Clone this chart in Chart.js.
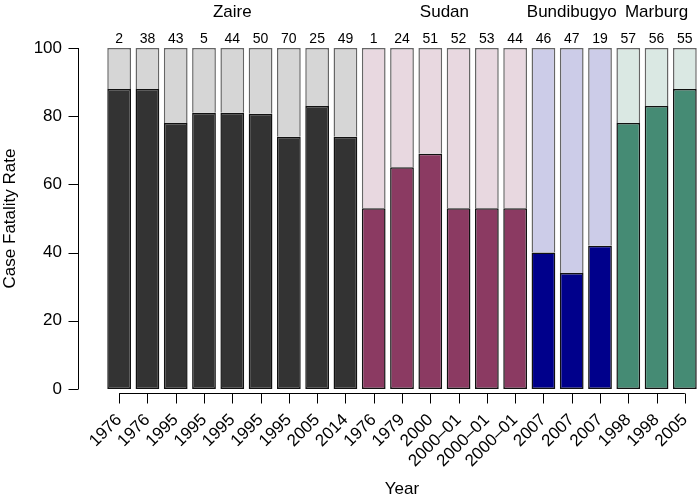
<!DOCTYPE html>
<html>
<head>
<meta charset="utf-8">
<script src="https://cdn.jsdelivr.net/npm/chart.js@4.4.1/dist/chart.umd.min.js"></script>
<style>
  html, body { margin: 0; padding: 0; background: #fff; overflow: hidden; }
  #wrap { width: 699px; height: 500px; }
</style>
</head>
<body>
<div id="wrap"><canvas id="cfr"></canvas></div>
<script>
// outbreak data
const years = ["1976", "1976", "1995", "1995", "1995", "1995", "1995", "2005", "2014",
  "1976", "1979", "2000", "2000\u201301", "2000\u201301", "2000\u201301",
  "2007", "2007", "2007", "1998", "1998", "2005"];
const species = ["Zaire", "Zaire", "Zaire", "Zaire", "Zaire", "Zaire", "Zaire", "Zaire", "Zaire",
  "Sudan", "Sudan", "Sudan", "Sudan", "Sudan", "Sudan",
  "Bundibugyo", "Bundibugyo", "Bundibugyo", "Marburg", "Marburg", "Marburg"];
const fatality = [88, 88, 78, 81, 81, 80.7, 74, 83, 74,
  53, 65, 69, 53, 53, 53,
  40, 34, 42, 78, 83, 88];
const outbreakNo = [2, 38, 43, 5, 44, 50, 70, 25, 49, 1, 24, 51, 52, 53, 44, 46, 47, 19, 57, 56, 55];
const groups = ["Zaire", "Sudan", "Bundibugyo", "Marburg"];
const yTicks = [0, 20, 40, 60, 80, 100];

const darkCol = { Zaire: "#333333", Sudan: "#8B3A62", Bundibugyo: "#00008B", Marburg: "#458B74" };
const lightCol = { Zaire: "#d6d6d6", Sudan: "#e8d8e0", Bundibugyo: "#ccccE8", Marburg: "#dae8e3" };

const FONT = "'Liberation Sans', Arial, Helvetica, sans-serif";

// R-style axes, bar labels and group titles
const decorations = {
  id: "decorations",
  afterDraw(chart) {
    const ctx = chart.ctx;
    const xs = chart.scales.x, ys = chart.scales.y;
    ctx.save();
    ctx.strokeStyle = "#000";
    ctx.lineWidth = 1;
    // y axis
    const ax = 78.5;
    ctx.beginPath();
    ctx.moveTo(ax, ys.getPixelForValue(0));
    ctx.lineTo(ax, ys.getPixelForValue(100));
    yTicks.forEach(v => {
      const py = Math.round(ys.getPixelForValue(v)) + 0.5;
      ctx.moveTo(ax, py);
      ctx.lineTo(ax - 10, py);
    });
    ctx.stroke();
    // x axis
    const ay = chart.chartArea.bottom + 4.5;
    ctx.beginPath();
    ctx.moveTo(xs.getPixelForValue(0), ay);
    ctx.lineTo(xs.getPixelForValue(years.length - 1), ay);
    years.forEach((y, i) => {
      const px = Math.round(xs.getPixelForValue(i)) + 0.5;
      ctx.moveTo(px, ay);
      ctx.lineTo(px, ay + 10);
    });
    ctx.stroke();
    // outbreak numbers
    ctx.fillStyle = "#000";
    ctx.textAlign = "center";
    ctx.textBaseline = "alphabetic";
    ctx.font = "14px " + FONT;
    outbreakNo.forEach((n, i) => {
      ctx.fillText(String(n), xs.getPixelForValue(i), 43);
    });
    // group titles
    ctx.font = "17px " + FONT;
    groups.forEach(g => {
      const idx = species.map((s, i) => s === g ? i : -1).filter(i => i >= 0);
      const mid = (xs.getPixelForValue(idx[0]) + xs.getPixelForValue(idx[idx.length - 1])) / 2;
      ctx.fillText(g, mid, 17);
    });
    ctx.restore();
  }
};

const ctx = document.getElementById("cfr").getContext("2d");
new Chart(ctx, {
  type: "bar",
  data: {
    labels: years,
    datasets: [
      {
        label: "Fatal",
        data: fatality,
        backgroundColor: species.map(s => darkCol[s]),
        borderColor: "#111111",
        borderWidth: 1.5,
        borderSkipped: false,
        barPercentage: 0.84,
        categoryPercentage: 1,
      },
      {
        label: "Survived",
        data: fatality.map(v => 100 - v),
        backgroundColor: species.map(s => lightCol[s]),
        borderColor: "#666666",
        borderWidth: 1.5,
        borderSkipped: "start",
        barPercentage: 0.84,
        categoryPercentage: 1,
      },
    ],
  },
  options: {
    responsive: true,
    maintainAspectRatio: false,
    animation: false,
    layout: { padding: { top: 48, left: 0, right: 0, bottom: 0 } },
    plugins: {
      legend: { display: false },
      tooltip: { enabled: false },
    },
    scales: {
      x: {
        stacked: true,
        grid: { display: false, drawTicks: false },
        border: { display: false },
        ticks: {
          color: "#000",
          font: { family: FONT, size: 17 },
          minRotation: 45,
          maxRotation: 45,
          autoSkip: false,
          padding: 21,
        },
        title: {
          display: true,
          text: "Year",
          color: "#000",
          font: { family: FONT, size: 17 },
          padding: { top: 0, bottom: 0 },
        },
        afterFit(scale) {
          scale.height = 111;
          scale.paddingLeft = 0;
          scale.paddingRight = 0;
        },
      },
      y: {
        stacked: true,
        min: 0,
        max: 100,
        grid: { display: false, drawTicks: false },
        border: { display: false },
        ticks: {
          stepSize: 20,
          color: "#000",
          font: { family: FONT, size: 17 },
          padding: 43,
        },
        title: {
          display: true,
          text: "Case Fatality Rate",
          color: "#000",
          font: { family: FONT, size: 17 },
          padding: { top: 0, bottom: 0 },
        },
        afterFit(scale) {
          scale.width = 105;
          scale.paddingTop = 0;
          scale.paddingBottom = 0;
        },
      },
    },
  },
  plugins: [decorations],
});
</script>
</body>
</html>
